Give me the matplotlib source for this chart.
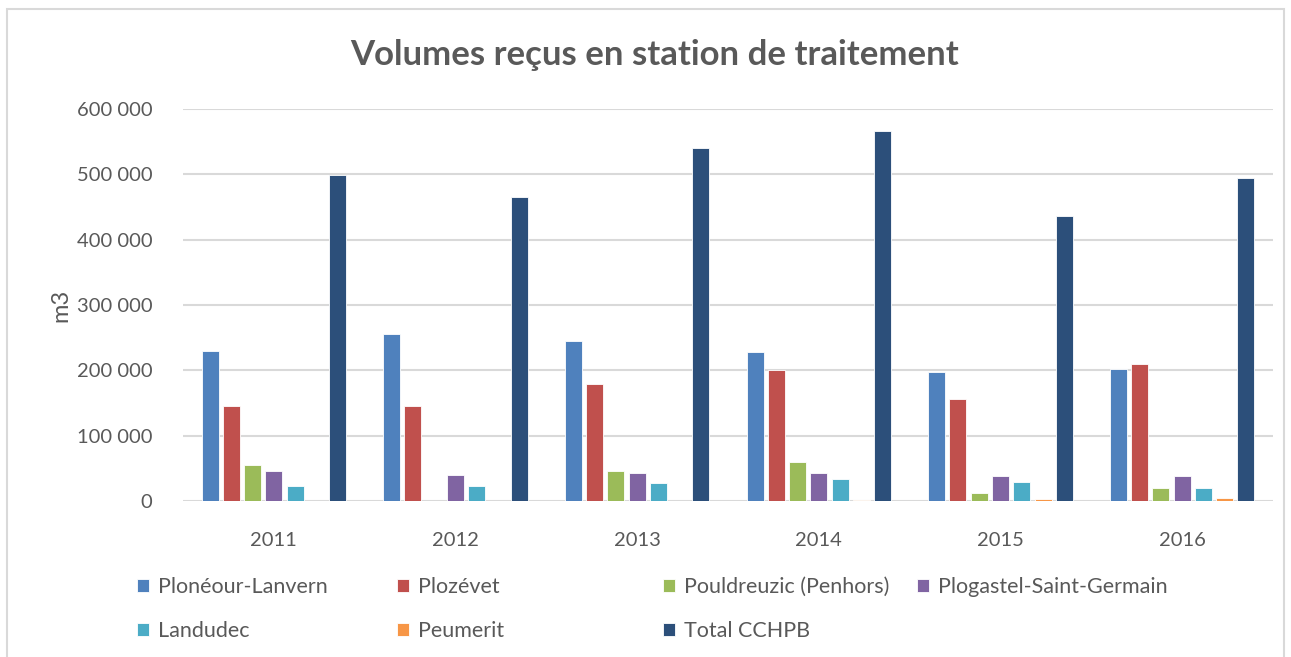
import matplotlib.pyplot as plt
import numpy as np
from matplotlib.patches import Rectangle

plt.rcParams['font.family'] = ['Lato', 'DejaVu Sans']

annees = ['2011', '2012', '2013', '2014', '2015', '2016']
series = ['Plonéour-Lanvern', 'Plozévet', 'Pouldreuzic (Penhors)',
          'Plogastel-Saint-Germain', 'Landudec', 'Peumerit', 'Total CCHPB']

ploneour = [230000, 255500, 245000, 227500, 198000, 201500]
plozevet = [145000, 145500, 178500, 200500, 156000, 210000]
pouldreuzic = [55000, 0, 46000, 59000, 13000, 20000]
plogastel = [46000, 40000, 42500, 43500, 39000, 38000]
landudec = [23000, 23500, 27000, 33000, 29000, 20000]
peumerit = [0, 0, 0, 1500, 3500, 5000]
total = [499000, 465500, 541000, 566000, 436000, 495000]

valeurs = [ploneour, plozevet, pouldreuzic, plogastel, landudec, peumerit, total]
couleurs = ['#4f81bd', '#c0504d', '#9bbb59', '#8064a2', '#4bacc6', '#f79646', '#2c4f7a']

gris = '#595959'

fig = plt.figure(figsize=(12.91, 6.57), dpi=100)
ax = fig.add_axes([183 / 1291, 1 - 501 / 657, 1090 / 1291, 392 / 657])

x = np.arange(len(annees))
pas = 0.117
larg = pas * 0.8
for i, (nom, vals, c) in enumerate(zip(series, valeurs, couleurs)):
    ax.bar(x + (i - 3) * pas, vals, larg, color=c, label=nom,
           edgecolor='white', linewidth=0.6, zorder=3)

ax.set_xlim(-0.5, len(annees) - 0.5)
ax.set_ylim(0, 600000)
yt = np.arange(0, 600001, 100000)
ax.set_yticks(yt)
ax.set_yticklabels([f'{int(v):,}'.replace(',', ' ') for v in yt])
ax.set_xticks(x)
ax.set_xticklabels(annees)
ax.tick_params(length=0, labelsize=14.5, labelcolor=gris)
ax.tick_params(axis='y', pad=22)
ax.tick_params(axis='x', pad=22)
ax.grid(axis='y', color='#d9d9d9', linewidth=1.5, zorder=0)
for s in ax.spines.values():
    s.set_visible(False)
ax.set_ylabel('m3', fontsize=17, color=gris, labelpad=4)

fig.text(655 / 1291, 1 - 55 / 657, 'Volumes reçus en station de traitement',
         ha='center', va='center', fontsize=25, fontweight='bold', color=gris)

# legende : une colonne a la fois pour garder des colonnes larges
handles, labels = ax.get_legend_handles_labels()
col_x = [137, 397, 663, 917]
for j, cx in enumerate(col_x):
    idx = [k for k in (j, j + 4) if k < len(handles)]
    fig.legend([handles[k] for k in idx], [labels[k] for k in idx],
               loc='upper left', bbox_to_anchor=(cx / 1291, 1 - 577 / 657),
               frameon=False, fontsize=15.5, labelcolor=gris,
               handlelength=0.55, handleheight=0.55, handletextpad=0.42,
               labelspacing=1.1, borderpad=0, borderaxespad=0)

fig.patches.append(Rectangle((7 / 1291, -0.05), 1277 / 1291, 1.05 - 9 / 657,
                             transform=fig.transFigure, fill=False,
                             edgecolor='#d9d9d9', linewidth=1.5))

fig.savefig('out.png', dpi=100, facecolor='white')
